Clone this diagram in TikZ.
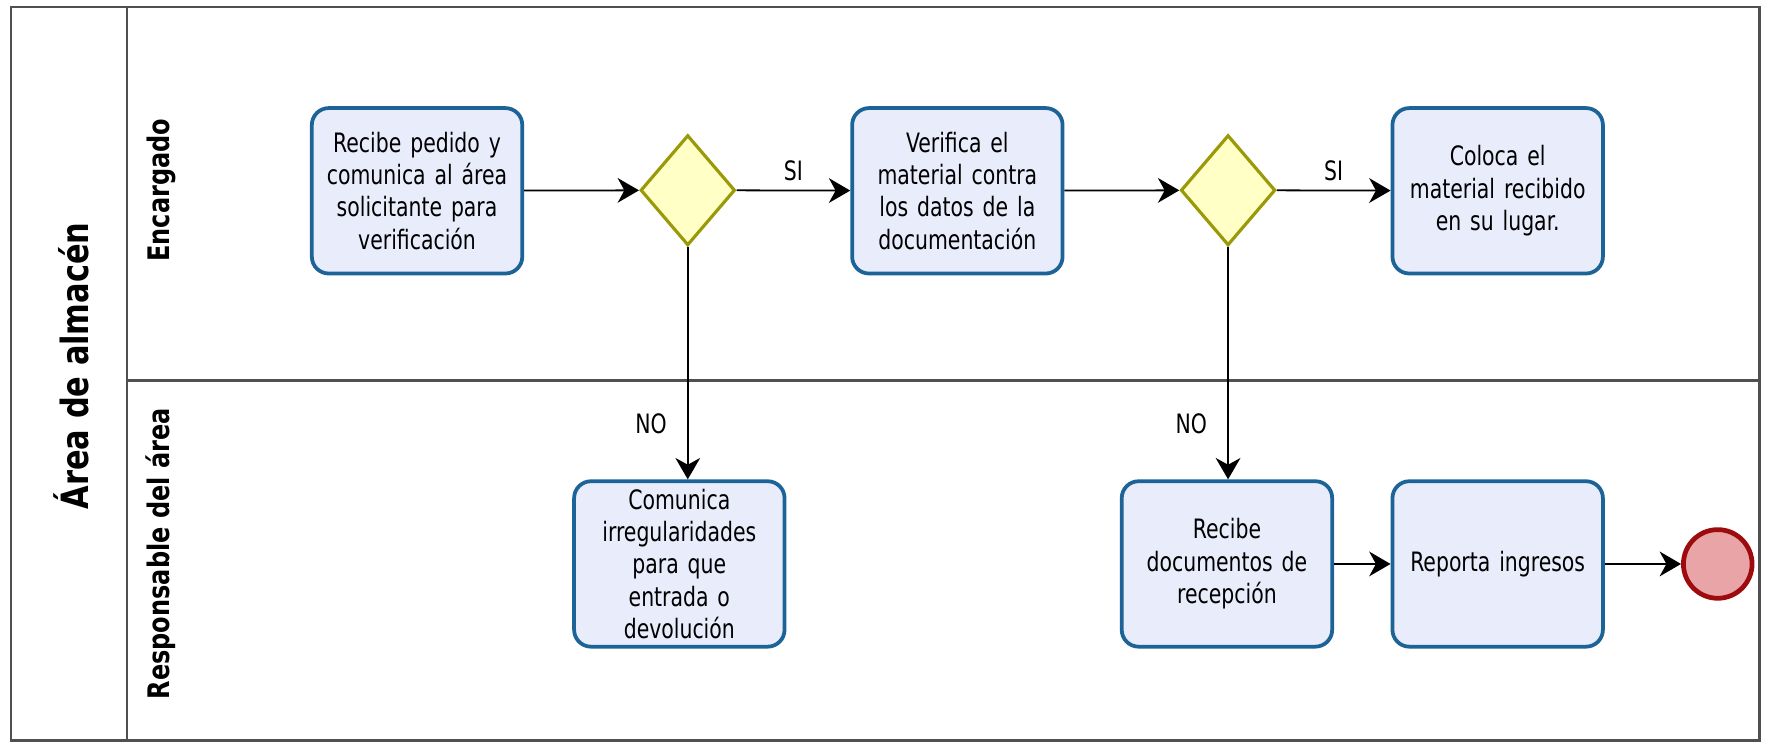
\documentclass[tikz,border=0pt]{standalone}
\usepackage{fontspec}
\setmainfont{DejaVu Sans Condensed}[FakeStretch=0.85]
\newfontfamily\lanefont{DejaVu Sans Condensed}[FakeStretch=0.9]
\usetikzlibrary{arrows.meta,shapes.geometric}
\definecolor{taskfill}{HTML}{E9ECFB}
\definecolor{taskline}{HTML}{1C6397}
\definecolor{gatefill}{HTML}{FFFFC6}
\definecolor{gateline}{HTML}{9A9A08}
\definecolor{endfill}{HTML}{E8A4A6}
\definecolor{endline}{HTML}{9E0B0F}
\definecolor{frameline}{HTML}{505050}
\begin{document}
\begin{tikzpicture}[x=0.02cm, y=-0.02cm,
  font=\fontsize{13.5}{16.4}\selectfont,
  task/.style={draw=taskline, fill=taskfill, line width=1.9pt,
    rounded corners=0.3cm, minimum width=3.74cm, minimum height=2.94cm,
    text width=3.6cm, align=center, inner sep=0pt},
  gate/.style={diamond, draw=gateline, fill=gatefill, line width=1.6pt,
    minimum width=1.68cm, minimum height=1.96cm, inner sep=0pt},
  endevent/.style={circle, draw=endline, fill=endfill, line width=2.4pt,
    minimum size=1.22cm, inner sep=0pt},
  flow/.style={-{Stealth[length=0.38cm, width=0.44cm, inset=0.12cm]},
    line width=0.9pt},
  lanelabel/.style={rotate=90, font=\lanefont\bfseries\fontsize{15}{17}\selectfont},
  flowlabel/.style={inner sep=0pt}]

% canvas
\useasboundingbox (0,0) rectangle (1568,660);

% pool and lanes
\draw[frameline, line width=1.2pt] (10,6) rectangle (1563,658);
\draw[frameline, line width=1.2pt] (113,6) -- (113,658);
\draw[frameline, line width=1.2pt] (113,338) -- (1563,338);
\node[rotate=90, font=\lanefont\bfseries\fontsize{19}{22}\selectfont] (pool) at (63,325) {Área de almacén};
\node[lanelabel] (lane1) at (143,169) {Encargado};
\node[lanelabel] (lane2) at (143,492) {Responsable del área};

% activities and gateways
\node[task] (b1) at (370.5,169.5) {Recibe pedido y\\comunica al área\\solicitante para\\verificación};
\node[gate] (d1) at (611,169) {};
\node[task] (b2) at (850.5,169.5) {Verifica el\\material contra\\los datos de la\\documentación};
\node[gate] (d2) at (1091,169) {};
\node[task] (b3) at (1330.5,169.5) {Coloca el\\material recibido\\en su lugar.};
\node[task] (b4) at (603.5,501) {Comunica\\irregularidades\\para que\\entrada o\\devolución};
\node[task] (b5) at (1090,501) {Recibe\\documentos de\\recepción};
\node[task] (b6) at (1330.5,501) {Reporta ingresos\\[0.3cm]};
\node[endevent] (fin) at (1526,501) {};

% sequence flows
\draw[flow] (b1) -- (d1);
\draw[flow] (d1) -- node[flowlabel, above=0.16cm] {SI} (b2);
\draw[flow] (b2) -- (d2);
\draw[flow] (d2) -- node[flowlabel, above=0.16cm] {SI} (b3);
\draw[flow] (d1.south) -- node[flowlabel, pos=0.76, left=0.36cm] {NO} (d1.south |- b4.north);
\draw[flow] (d2.south) -- node[flowlabel, pos=0.76, left=0.36cm] {NO} (d2.south |- b5.north);
\draw[flow] (b5) -- (b6);
\draw[flow] (b6) -- (fin);
\end{tikzpicture}
\end{document}
